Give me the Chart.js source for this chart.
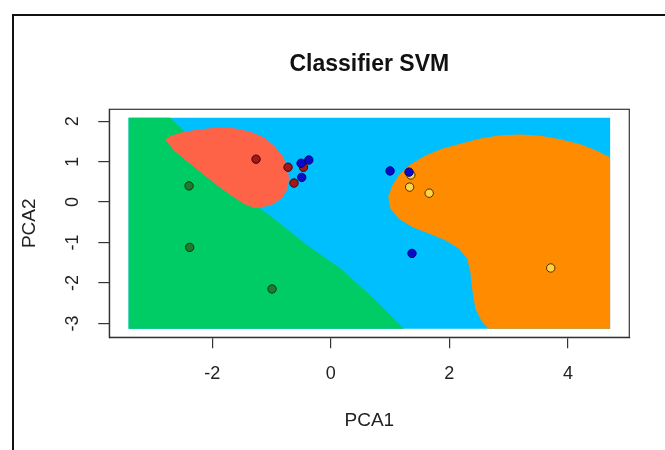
<!DOCTYPE html>
<html>
<head>
<meta charset="utf-8">
<script src="https://cdn.jsdelivr.net/npm/chart.js@4.4.0/dist/chart.umd.min.js"></script>
<style>
  html, body { margin: 0; padding: 0; background: #ffffff; }
  #wrap { position: relative; width: 665px; height: 450px; overflow: hidden; }
  #wrap canvas { position: absolute; left: 0; top: 0; }
  #frame { position: absolute; left: 12px; top: 14px; width: 720px; height: 520px;
           border-left: 2px solid #111; border-top: 2px solid #111; pointer-events: none; }
</style>
</head>
<body>
<div id="wrap">
  <canvas id="chart" width="665" height="450"></canvas>
  <div id="frame"></div>
</div>
<script>
// Observations (PCA space), one pair of arrays per class
const class1X = [-2.39, -2.38, -0.99];
const class1Y = [0.40, -1.12, -2.15];
const class2X = [-1.26, -0.72, -0.46, -0.62];
const class2Y = [1.06, 0.86, 0.86, 0.47];
const class3X = [-0.50, -0.37, -0.49, 1.00, 1.32, 1.37];
const class3Y = [0.96, 1.04, 0.61, 0.77, 0.74, -1.27];
const class4X = [1.35, 1.33, 1.66, 3.71];
const class4Y = [0.67, 0.37, 0.22, -1.63];

// Prediction grid extent
const gridX = [-3.41, 4.712];
const gridY = [-3.135, 2.085];

// Decision-region outlines (closed polygons in PCA units)
const region1X = [-3.41, -2.707, -2.47, -2.30, -2.00, -1.70, -1.45, -1.25, -0.956, -0.675, -0.394, -0.114, 0.167, 0.448, 0.727, 0.953, 1.121, 1.233, -3.41];
const region1Y = [2.085, 2.085, 1.76, 1.45, 0.95, 0.50, 0.15, -0.09, -0.41, -0.741, -1.069, -1.358, -1.645, -2.015, -2.385, -2.716, -2.963, -3.135, -3.135];

const region2X = [-2.796, -2.695, -2.471, -2.190, -1.909, -1.630, -1.348, -1.125, -0.956, -0.815, -0.731, -0.704, -0.731, -0.815, -0.956, -1.152, -1.293, -1.461, -1.630, -1.909, -2.190, -2.471, -2.640];
const region2Y = [1.541, 1.640, 1.738, 1.802, 1.844, 1.827, 1.738, 1.598, 1.393, 1.146, 0.899, 0.568, 0.321, 0.116, -0.049, -0.131, -0.148, -0.049, 0.116, 0.405, 0.733, 1.062, 1.269];

const region4X = [0.970, 1.037, 1.148, 1.317, 1.598, 1.879, 2.187, 2.524, 2.860, 3.197, 3.534, 3.870, 4.207, 4.488, 4.712, 4.712, 2.663, 2.552, 2.439, 2.384, 2.355, 2.300, 2.158, 1.934, 1.653, 1.374, 1.148, 1.008];
const region4Y = [0.123, 0.412, 0.659, 0.906, 1.153, 1.318, 1.440, 1.573, 1.650, 1.672, 1.640, 1.556, 1.432, 1.269, 1.104, -3.135, -3.135, -2.963, -2.632, -2.138, -1.728, -1.398, -1.151, -0.946, -0.780, -0.617, -0.410, -0.163];

// Axis ranges and tick labels
const xRange = [-3.735, 5.035];
const yRange = [-3.344, 2.294];
const xTicks = [-2, 0, 2, 4];
const yTicks = [-3, -2, -1, 0, 1, 2];

const toPoints = (xs, ys) => xs.map((x, i) => ({ x: x, y: ys[i] }));

const FONT = "'Liberation Sans', Arial, Helvetica, sans-serif";
const INK = '#222222';

function regionDataset(points, color, order) {
  return {
    data: points,
    showLine: true,
    fill: 'shape',
    backgroundColor: color,
    borderColor: 'transparent',
    borderWidth: 0,
    pointRadius: 0,
    pointHoverRadius: 0,
    tension: 0,
    order: order
  };
}

function pointDataset(points, fillColor, edgeColor, order) {
  return {
    data: points,
    showLine: false,
    pointRadius: 4.2,
    pointHoverRadius: 4.2,
    pointBackgroundColor: fillColor,
    pointBorderColor: edgeColor,
    pointBorderWidth: 1,
    order: order
  };
}

const backgroundBox = toPoints(
  [gridX[0], gridX[1], gridX[1], gridX[0]],
  [gridY[1], gridY[1], gridY[0], gridY[0]]
);

// Outline around the whole plotting region
const plotBox = {
  id: 'plotBox',
  afterDraw(chart) {
    const a = chart.chartArea;
    const ctx = chart.ctx;
    ctx.save();
    ctx.strokeStyle = '#333333';
    ctx.lineWidth = 1.2;
    ctx.strokeRect(a.left, a.top, a.right - a.left, a.bottom - a.top);
    ctx.restore();
  }
};

new Chart(document.getElementById('chart'), {
  type: 'scatter',
  data: {
    datasets: [
      regionDataset(backgroundBox, '#00BFFF', 10),
      regionDataset(toPoints(region1X, region1Y), '#00CC66', 9),
      regionDataset(toPoints(region2X, region2Y), '#FF6347', 8),
      regionDataset(toPoints(region4X, region4Y), '#FF8C00', 7),
      pointDataset(toPoints(class1X, class1Y), '#1F7A2E', '#0f3a14', 4),
      pointDataset(toPoints(class2X, class2Y), '#A3171B', '#3a0808', 3),
      pointDataset(toPoints(class4X, class4Y), '#FFD24A', '#4a3000', 2),
      pointDataset(toPoints(class3X, class3Y), '#0A0ACD', '#05056a', 1)
    ]
  },
  options: {
    responsive: false,
    animation: false,
    devicePixelRatio: 1,
    layout: { padding: { left: 0, right: 35.7, top: 0, bottom: 0 } },
    plugins: {
      legend: { display: false },
      tooltip: { enabled: false }
    },
    scales: {
      // heading centred over the plotting region
      top: {
        type: 'linear',
        position: 'top',
        min: xRange[0],
        max: xRange[1],
        afterFit: s => { s.height = 109.3; },
        ticks: { display: false },
        grid: { display: false },
        border: { display: false },
        title: {
          display: true,
          text: 'Classifier SVM',
          color: '#111111',
          font: { family: FONT, size: 23, weight: 'bold' },
          padding: { top: 50.5, bottom: 0 }
        }
      },
      x: {
        type: 'linear',
        min: xRange[0],
        max: xRange[1],
        afterBuildTicks: s => { s.ticks = xTicks.map(v => ({ value: v })); },
        afterFit: s => { s.height = 112.7; },
        ticks: { color: INK, font: { family: FONT, size: 18 }, padding: 15, maxRotation: 0, autoSkip: false },
        grid: { drawOnChartArea: false, drawTicks: true, tickLength: 11, color: '#333333', lineWidth: 1.2 },
        border: { display: true, color: '#333333', width: 1.2 },
        title: { display: true, text: 'PCA1', color: INK, font: { family: FONT, size: 19 }, padding: { top: 17.6, bottom: 17.6 } }
      },
      y: {
        type: 'linear',
        min: yRange[0],
        max: yRange[1],
        afterBuildTicks: s => { s.ticks = yTicks.map(v => ({ value: v })); },
        afterFit: s => { s.width = 109.3; },
        ticks: { color: INK, font: { family: FONT, size: 18 }, padding: 17.5, minRotation: 90, maxRotation: 90, crossAlign: 'center', autoSkip: false },
        grid: { drawOnChartArea: false, drawTicks: true, tickLength: 11, color: '#333333', lineWidth: 1.2 },
        border: { display: true, color: '#333333', width: 1.2 },
        title: { display: true, text: 'PCA2', color: INK, font: { family: FONT, size: 19 }, padding: { top: 18.6, bottom: 18.6 } }
      }
    }
  },
  plugins: [plotBox]
});
</script>
</body>
</html>
